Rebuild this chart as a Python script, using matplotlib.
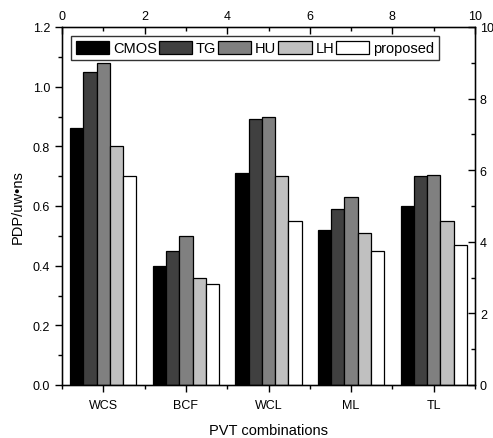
import numpy as np
import matplotlib
matplotlib.use("Agg")
import matplotlib.pyplot as plt
from matplotlib.ticker import MultipleLocator

plt.rcParams['font.family'] = ['Liberation Sans', 'DejaVu Sans']

groups = ['WCS', 'BCF', 'WCL', 'ML', 'TL']
series = ['CMOS', 'TG', 'HU', 'LH', 'proposed']
cmos = [0.86, 0.40, 0.71, 0.52, 0.60]
tg = [1.05, 0.45, 0.89, 0.59, 0.70]
hu = [1.08, 0.50, 0.90, 0.63, 0.705]
lh = [0.80, 0.36, 0.70, 0.51, 0.55]
proposed = [0.70, 0.34, 0.55, 0.45, 0.47]
colors = ['#000000', '#404040', '#808080', '#c0c0c0', '#ffffff']

fig = plt.figure(figsize=(4.93, 4.39), dpi=100)
ax = fig.add_axes([62/493, 53/439, 413/493, 358/439])

x = np.arange(1, len(groups) + 1)
w = 0.16
for i, vals in enumerate([cmos, tg, hu, lh, proposed]):
    ax.bar(x + (i - 2) * w, vals, w, color=colors[i], edgecolor='black',
           linewidth=0.9, label=series[i])

ax.set_xlim(0.5, 5.5)
ax.set_ylim(0, 1.2)
ax.set_xticks(x)
ax.set_xticklabels(groups)
ax.set_xticks(np.arange(0.5, 6.0, 1.0), minor=True)
ax.yaxis.set_major_locator(MultipleLocator(0.2))
ax.yaxis.set_minor_locator(MultipleLocator(0.1))
ax.yaxis.set_major_formatter(plt.FormatStrFormatter('%.1f'))
ax.tick_params(which='major', direction='out', length=5, width=1, labelsize=9)
ax.tick_params(axis='x', which='major', pad=5)
ax.tick_params(which='minor', direction='out', length=3, width=1)
ax.set_xlabel('PVT combinations', fontsize=10.5, labelpad=9)
ax.set_ylabel('PDP/uw\u2022ns', fontsize=10.5, labelpad=6)
for s in ax.spines.values():
    s.set_linewidth(1)

# right axis
ax_r = ax.twinx()
ax_r.set_ylim(0, 10)
ax_r.yaxis.set_major_locator(MultipleLocator(2))
ax_r.yaxis.set_minor_locator(MultipleLocator(1))
ax_r.tick_params(which='major', direction='in', length=5, width=1, labelsize=9)
ax_r.tick_params(which='minor', direction='in', length=3, width=1)

# top axis
ax_t = ax.twiny()
ax_t.set_xlim(0, 10)
ax_t.xaxis.set_major_locator(MultipleLocator(2))
ax_t.xaxis.set_minor_locator(MultipleLocator(1))
ax_t.tick_params(which='major', direction='in', length=5, width=1, labelsize=9)
ax_t.tick_params(which='minor', direction='in', length=3, width=1)

leg = ax.legend(loc='upper left', bbox_to_anchor=(8.7/413, 1 - 8.7/358),
                borderaxespad=0, ncol=5, fontsize=10.5, frameon=True,
                fancybox=False, edgecolor='black', handlelength=2.3,
                handleheight=1.0, handletextpad=0.25, columnspacing=0.12,
                borderpad=0.35)
leg.get_frame().set_linewidth(1)
leg.set_zorder(5)

fig.savefig('out.png', dpi=100)
